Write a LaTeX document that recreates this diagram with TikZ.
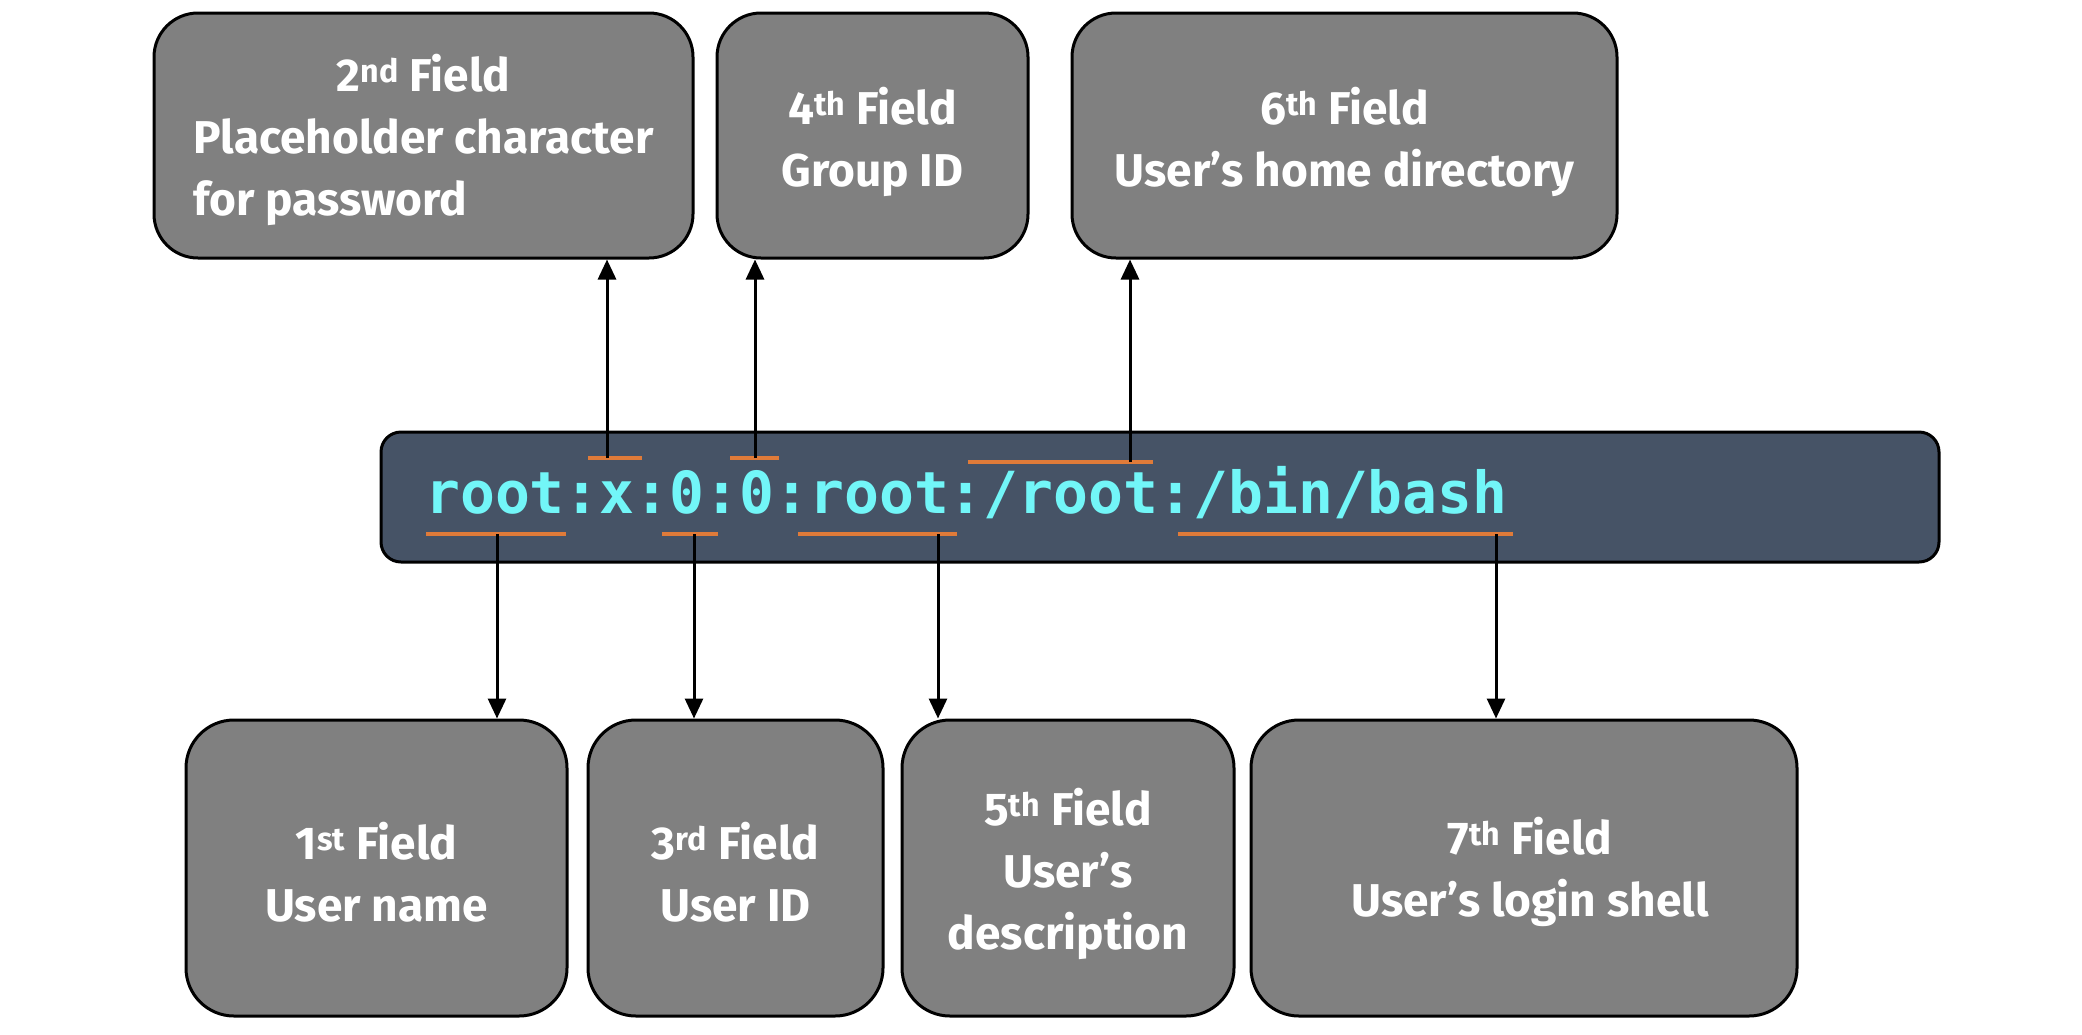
\documentclass[tikz,border=0pt]{standalone}
\usepackage{fontspec}
\setmainfont{Fira Sans}
\newfontfamily\boxfont{Fira Sans}
\newfontfamily\codefont{DejaVu Sans Mono}
\usetikzlibrary{arrows.meta}
\definecolor{boxgray}{HTML}{808080}
\definecolor{barfill}{HTML}{465366}
\definecolor{codecyan}{HTML}{72F6F8}
\definecolor{ulorange}{HTML}{E07B39}
\tikzset{
  fieldbox/.style={draw=black, line width=3pt, fill=boxgray, inner sep=0pt},
  topbox/.style={fieldbox, minimum height=245pt, rounded corners=44pt},
  botbox/.style={fieldbox, minimum height=296pt, rounded corners=48pt},
  boxtext/.style={text=white, align=center, inner sep=0pt,
    font=\boxfont\bfseries\fontsize{46}{62}\selectfont},
  codebar/.style={draw=black, line width=3pt, fill=barfill, rounded corners=20pt,
    minimum width=1558pt, minimum height=130pt, inner sep=0pt},
  ul/.style={draw=ulorange, line width=3.5pt},
  arr/.style={draw=black, line width=3pt, -{Triangle[width=18pt,length=20pt]}}
}
\begin{document}
\begin{tikzpicture}[x=1pt,y=-1pt]
\useasboundingbox[fill=white] (0,0) rectangle (2082,1034);

% top boxes
\node[topbox, minimum width=539pt] (b2) at (423.5,135.5) {};
\node[topbox, minimum width=311pt] (b4) at (872.5,135.5) {};
\node[topbox, minimum width=545pt] (b6) at (1344.5,135.5) {};
\node[boxtext] (t2) at ([yshift=-6pt]b2.center)
  {\begin{tabular}{@{}l@{}}\multicolumn{1}{@{}c@{}}{2\textsuperscript{nd} Field}\\Placeholder character\\for password\end{tabular}};
\node[boxtext] (t4) at ([yshift=-6pt]b4.center) {4\textsuperscript{th} Field\\Group ID};
\node[boxtext] (t6) at ([yshift=-6pt]b6.center) {6\textsuperscript{th} Field\\User’s home directory};

% code bar
\node[codebar] (bar) at (1160,497) {};
\node[anchor=base west, inner sep=0pt, text=codecyan,
  font=\codefont\bfseries\fontsize{58}{60}\selectfont] (code) at (425,513)
  {root:x:0:0:root:/root:/bin/bash};

% bottom boxes
\node[botbox, minimum width=381pt] (b1) at (376.5,868) {};
\node[botbox, minimum width=295pt] (b3) at (735.5,868) {};
\node[botbox, minimum width=332pt] (b5) at (1068,868) {};
\node[botbox, minimum width=546pt] (b7) at (1524,868) {};
\node[boxtext] (t1) at ([yshift=-4pt]b1.center) {1\textsuperscript{st} Field\\User name};
\node[boxtext] (t3) at ([yshift=-4pt]b3.center) {3\textsuperscript{rd} Field\\User ID};
\node[boxtext] (t5) at ([yshift=-6pt]b5.center) {5\textsuperscript{th} Field\\User’s\\description};
\node[boxtext] (t7) at ([yshift=-4pt, xshift=6pt]b7.center) {7\textsuperscript{th} Field\\User’s login shell};

% orange underlines
\draw[ul] (588,458) -- (642,458);
\draw[ul] (730,458) -- (779,458);
\draw[ul] (968,462) -- (1153,462);
\draw[ul] (426,534) -- (566,534);
\draw[ul] (662,534) -- (718,534);
\draw[ul] (798,534) -- (957,534);
\draw[ul] (1178,534) -- (1513,534);

% arrow start points
\coordinate (pA) at (607,458);
\coordinate (pB) at (755,458);
\coordinate (pC) at (1130,462);
\coordinate (pD) at (497,534);
\coordinate (pE) at (694,534);
\coordinate (pF) at (938,534);
\coordinate (pG) at (1496,534);

\draw[arr] (pA) -- (pA |- b2.south);
\draw[arr] (pB) -- (pB |- b4.south);
\draw[arr] (pC) -- (pC |- b6.south);
\draw[arr] (pD) -- (pD |- b1.north);
\draw[arr] (pE) -- (pE |- b3.north);
\draw[arr] (pF) -- (pF |- b5.north);
\draw[arr] (pG) -- (pG |- b7.north);
\end{tikzpicture}
\end{document}
